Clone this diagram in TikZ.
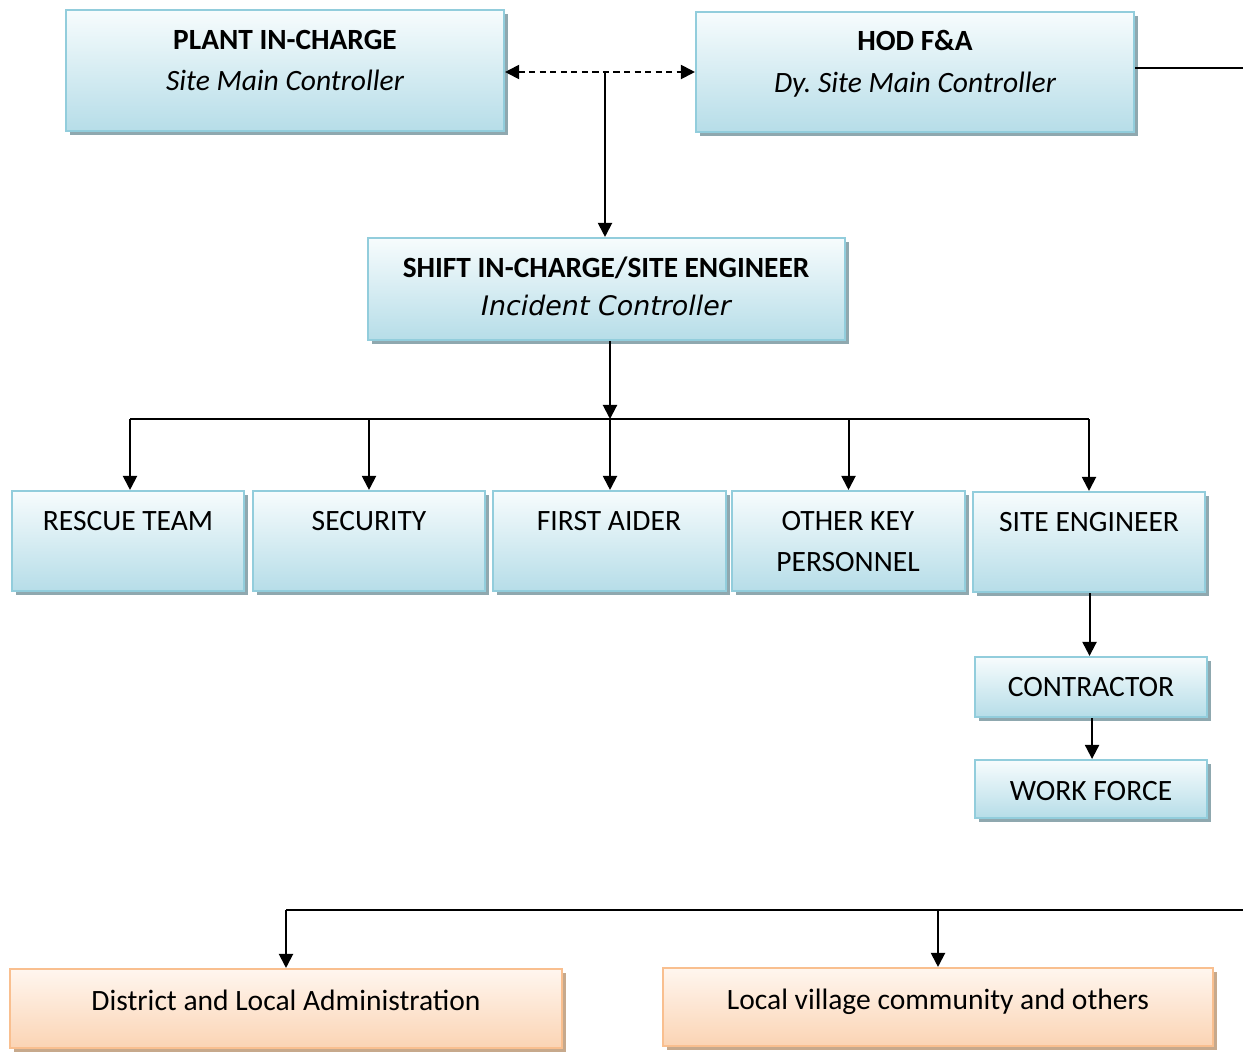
\documentclass[tikz,border=0pt]{standalone}
\usepackage{fontspec}
\setmainfont{Carlito}
\newfontfamily\verd{DejaVu Sans}
\usetikzlibrary{arrows.meta,shadows,fit}
\definecolor{bluetop}{HTML}{F7FCFD}
\definecolor{bluebot}{HTML}{B6DDE8}
\definecolor{blueline}{HTML}{92CDDC}
\definecolor{blueshadow}{HTML}{8FA8AF}
\definecolor{orgtop}{HTML}{FFF6EF}
\definecolor{orgbot}{HTML}{FBD4B4}
\definecolor{orgline}{HTML}{F9BF8F}
\definecolor{orgshadow}{HTML}{C7A98C}
\tikzset{
  bluebox/.style={draw=blueline, line width=1.2pt, top color=bluetop, bottom color=bluebot, inner sep=0pt,
    general shadow={fill=blueshadow, shadow xshift=2.3pt, shadow yshift=-2.3pt}},
  orgbox/.style={draw=orgline, line width=1.2pt, top color=orgtop, bottom color=orgbot, inner sep=0pt,
    general shadow={fill=orgshadow, shadow xshift=2.3pt, shadow yshift=-2.3pt}},
  txt/.style={font=\fontsize{16.8}{20}\selectfont, inner sep=0pt, text height=10.8pt, text depth=0pt},
  btxt/.style={txt, font=\fontsize{16.7}{20}\selectfont\bfseries},
  itxt/.style={txt, font=\fontsize{16.8}{20}\selectfont\itshape},
  vtxt/.style={txt, font=\fontsize{15.3}{20}\selectfont\verd\itshape, text height=11.1pt},
  conn/.style={line width=1.15pt, black},
  arr/.style={conn, -{Triangle[length=8pt,width=8pt]}},
  darr/.style={conn, dash pattern=on 3.5pt off 2.5pt, {Triangle[length=8pt,width=8pt]}-{Triangle[length=8pt,width=8pt]}}
}
\begin{document}
\begin{tikzpicture}[x=0.02cm, y=-0.02cm]
\useasboundingbox[fill=white] (0,0) rectangle (1243,1052);
% top row
\node[bluebox, fit={(66,10) (504,131)}] (plant) {};
\node[btxt] (plantA) at (285,40) {PLANT IN-CHARGE};
\node[itxt] (plantB) at (285,81) {Site Main Controller};
\node[bluebox, fit={(696,12) (1134,132)}] (hod) {};
\node[btxt] (hodA) at (915,41) {HOD F\&A};
\node[itxt] (hodB) at (915,83) {Dy.\ Site Main Controller};
% shift
\node[bluebox, fit={(368,238) (845,340)}] (shift) {};
\node[btxt] (shiftA) at (606,268) {SHIFT IN-CHARGE/SITE ENGINEER};
\node[vtxt] (shiftB) at (606,306) {Incident Controller};
% row of teams
\node[bluebox, fit={(12,491) (244,591)}] (rescue) {};
\node[txt] (rescueT) at (128,521) {RESCUE TEAM};
\node[bluebox, fit={(253,491) (485,591)}] (security) {};
\node[txt] (securityT) at (369,521) {SECURITY};
\node[bluebox, fit={(493,491) (726,591)}] (aider) {};
\node[txt] (aiderT) at (609,521) {FIRST AIDER};
\node[bluebox, fit={(732,491) (965,591)}] (other) {};
\node[txt] (otherT) at (848,521) {OTHER KEY};
\node[txt] (otherT2) at (848,562) {PERSONNEL};
\node[bluebox, fit={(973,492) (1205,592)}] (siteeng) {};
\node[txt] (siteengT) at (1089,522) {SITE ENGINEER};
\node[bluebox, fit={(975,657) (1207,717)}] (contractor) {};
\node[txt] (contractorT) at (1091,687) {CONTRACTOR};
\node[bluebox, fit={(975,760) (1207,818)}] (work) {};
\node[txt] (workT) at (1091,791) {WORK FORCE};
% bottom
\node[orgbox, fit={(10,969) (562,1048)}] (district) {};
\node[txt] (districtT) at (286,1001) {District and Local Administration};
\node[orgbox, fit={(663,968) (1213,1046)}] (village) {};
\node[txt] (villageT) at (938,1000) {Local village community and others};
% connector points
\coordinate (redge) at (1243,68);
\coordinate (bedge) at (1243,910);
\coordinate (split) at (605,72);
\coordinate (bus) at (610,419);
\coordinate (busL) at (130,419);
\coordinate (busR) at (1089,419);
% connectors
\draw[darr] (plant.east |- split) -- (hod.west |- split);
\draw[arr] (split) -- (split |- shift.north);
\draw[arr] (shift.south -| bus) -- (bus);
\draw[conn] (busL) -- (busR);
\draw[arr] (busL) -- (busL |- rescue.north);
\draw[arr] (bus -| security.north) -- (security.north);
\draw[arr] (bus) -- (bus |- aider.north);
\draw[arr] (bus -| other.north) -- (other.north);
\draw[arr] (busR) -- (busR |- siteeng.north);
\draw[arr] ([xshift=0.3pt]siteeng.south) -- ([xshift=0.3pt]siteeng.south |- contractor.north);
\draw[arr] ([xshift=0.6pt]contractor.south) -- ([xshift=0.6pt]contractor.south |- work.north);
\draw[conn] (hod.east |- redge) -- (redge);
\draw[conn] (bedge) -- (bedge -| district.north);
\draw[arr] (bedge -| district.north) -- (district.north);
\draw[arr] (bedge -| village.north) -- (village.north);
\end{tikzpicture}
\end{document}
